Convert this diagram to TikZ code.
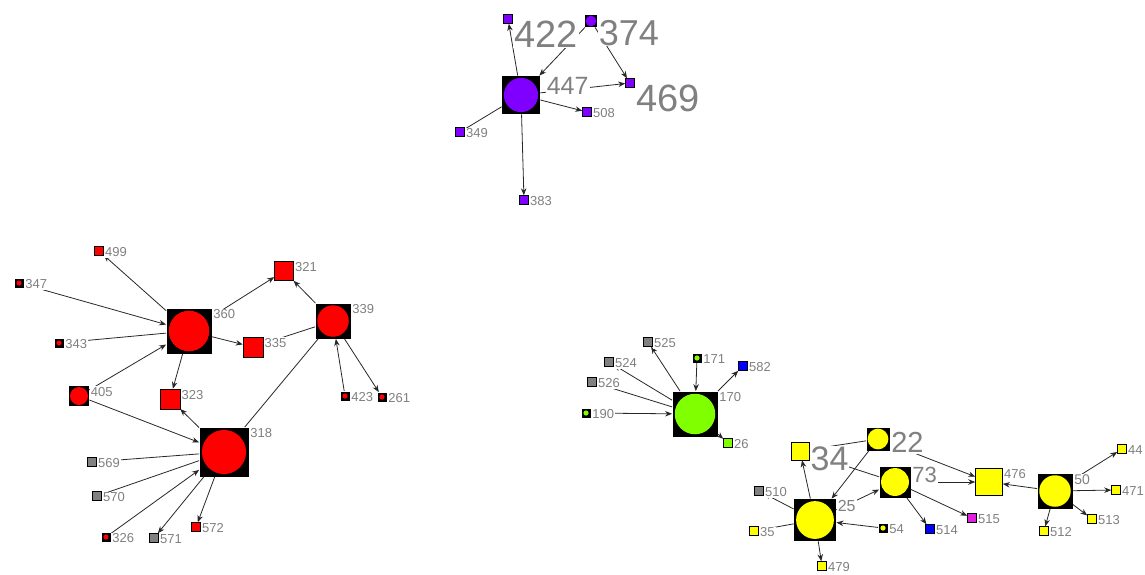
\documentclass[tikz,border=0pt]{standalone}
\usepackage{fontspec}
\setmainfont{Liberation Sans}
\usetikzlibrary{arrows.meta}
\definecolor{vio}{RGB}{128,0,255}
\definecolor{rd}{RGB}{255,0,0}
\definecolor{grn}{RGB}{128,255,0}
\definecolor{yel}{RGB}{255,255,0}
\definecolor{gry}{RGB}{128,128,128}
\definecolor{blu}{RGB}{0,0,255}
\definecolor{mag}{RGB}{224,32,224}
\definecolor{labgray}{RGB}{128,128,128}
\definecolor{edgec}{RGB}{40,40,40}
\tikzset{
  hub/.style 2 args={rectangle, fill=black, inner sep=0pt, minimum size=#2,
    path picture={\fill[#1] (path picture bounding box.center) circle[radius={0.45*#2}];}},
  dotnode/.style={rectangle, fill=black, inner sep=0pt, minimum size=9pt,
    path picture={\fill[#1] (path picture bounding box.center) circle[radius=2.6pt];}},
  sq/.style={rectangle, draw=black, line width=0.5pt, fill=#1, inner sep=0pt, minimum size=9pt},
  lbl/.style={anchor=north west, inner sep=1pt, fill=white, text=labgray,
    font=\fontsize{13}{13}\selectfont},
  lsize/.style={font=\fontsize{#1}{#1}\selectfont},
}

\begin{document}
\begin{tikzpicture}[x=1pt, y=-1pt, >={Stealth[length=7pt,width=5.5pt]},
    color=edgec, line width=0.8pt]
  \fill[white] (0,0) rectangle (1145,574);
  \useasboundingbox (0,0) rectangle (1145,574);

  % purple group
  \node[hub={vio}{38pt}] (n447) at (521,95) {};
  \node[sq=vio] (n422) at (508,19) {};
  \node[hub={vio}{12pt}] (n374) at (591,21) {};
  \node[sq=vio] (n469) at (630,83) {};
  \node[sq=vio] (n508) at (587,112) {};
  \node[sq=vio] (n349) at (460,132) {};
  \node[sq=vio] (n383) at (524,200) {};

  % red group
  \node[hub={rd}{45pt}] (n360) at (189,331) {};
  \node[sq=rd] (n499) at (99,251) {};
  \node[dotnode=rd] (n347) at (19,283) {};
  \node[dotnode=rd] (n343) at (59,343) {};
  \node[hub={rd}{20pt}] (n405) at (79,396) {};
  \node[sq=rd, minimum size=20pt] (n323) at (170,399) {};
  \node[sq=rd, minimum size=20pt] (n335) at (253,347) {};
  \node[sq=rd, minimum size=19pt] (n321) at (284,271) {};
  \node[hub={rd}{35pt}] (n339) at (333,321) {};
  \node[dotnode=rd] (n423) at (345,396) {};
  \node[dotnode=rd] (n261) at (382,397) {};
  \node[hub={rd}{49pt}] (n318) at (224,452) {};
  \node[sq=gry] (n569) at (92,462) {};
  \node[sq=gry] (n570) at (97,496) {};
  \node[dotnode=rd] (n326) at (106,537) {};
  \node[sq=gry] (n571) at (154,538) {};
  \node[sq=rd] (n572) at (196,527) {};

  % green group
  \node[hub={grn}{45pt}] (n170) at (695,414) {};
  \node[sq=gry] (n525) at (648,342) {};
  \node[sq=gry] (n524) at (609,362) {};
  \node[sq=gry] (n526) at (592,382) {};
  \node[dotnode=grn] (n190) at (586,413) {};
  \node[dotnode=grn] (n171) at (697,358) {};
  \node[sq=blu] (n582) at (743,366) {};
  \node[sq=grn] (n26) at (728,443) {};

  % yellow group
  \node[hub={yel}{42pt}] (n25) at (815,520) {};
  \node[sq=yel, minimum size=18pt] (n34) at (800,451) {};
  \node[hub={yel}{23pt}] (n22) at (878,439) {};
  \node[hub={yel}{31pt}] (n73) at (895,482) {};
  \node[sq=gry] (n510) at (759,491) {};
  \node[sq=yel] (n35) at (754,531) {};
  \node[sq=yel] (n479) at (822,566) {};
  \node[dotnode=yel] (n54) at (883,528) {};
  \node[sq=blu] (n514) at (930,529) {};
  \node[sq=mag] (n515) at (972,518) {};
  \node[sq=yel, minimum size=27pt] (n476) at (989,482) {};
  \node[hub={yel}{35pt}] (n50) at (1055,491) {};
  \node[sq=yel] (n44) at (1122,449) {};
  \node[sq=yel] (n471) at (1116,490) {};
  \node[sq=yel] (n513) at (1092,519) {};
  \node[sq=yel] (n512) at (1044,531) {};

  % ties
  \draw[->] (n447) -- (n422);
  \draw[->] (n374) -- (n447);
  \draw[->] (n374) -- (n469);
  \foreach \t in {n469,n508,n383} \draw[->] (n447) -- (\t);
  \draw (n349) -- (n447);

  \foreach \s in {n347,n405} \draw[->] (\s) -- (n360);
  \draw (n343) -- (n360);
  \foreach \t in {n499,n323,n335,n321} \draw[->] (n360) -- (\t);
  \draw[->] (n339) -- (n321);
  \draw (n339) -- (n335);
  \draw[->] (n423) -- (n339);
  \draw[->] (n339) -- (n261);
  \draw (n339) -- (n318);
  \foreach \s in {n405,n326} \draw[->] (\s) -- (n318);
  \draw (n569) -- (n318);
  \draw (n570) -- (n318);
  \foreach \t in {n323,n571,n572} \draw[->] (n318) -- (\t);

  \foreach \t in {n525,n524,n526,n582,n26} \draw[->] (n170) -- (\t);
  \foreach \s in {n190,n171} \draw[->] (\s) -- (n170);

  \draw[->] (n22) -- (n25);
  \draw (n34) -- (n22);
  \draw (n34) -- (n73);
  \foreach \t in {n34,n73,n510,n479} \draw[->] (n25) -- (\t);
  \draw (n35) -- (n25);
  \draw[->] (n54) -- (n25);
  \foreach \t in {n514,n515} \draw[->] (n73) -- (\t);
  \foreach \s in {n73,n22,n50} \draw[->] (\s) -- (n476);
  \foreach \t in {n44,n471,n513,n512} \draw[->] (n50) -- (\t);

  % labels
  \node[lbl, lsize=25, xshift=5pt] (l447) at (n447.north east) {447};
  \node[lbl, lsize=38, yshift=-5pt] (l422) at (n422.north east) {422};
  \node[lbl, lsize=36, yshift=-4pt] (l374) at (n374.north east) {374};
  \node[lbl, lsize=38, yshift=-5pt] (l469) at (n469.north east) {469};
  \foreach \n in {508,349,383,
      360,499,347,343,405,323,335,321,339,423,261,318,569,570,326,571,572,
      170,525,524,526,190,171,582,26,
      510,35,479,54,514,515,476,44,471,513,512}
    \node[lbl] (l\n) at (n\n.north east) {\n};
  \node[lbl, lsize=16] (l25) at (n25.north east) {25};
  \node[lbl, lsize=34, yshift=-4pt] (l34) at (n34.north east) {34};
  \node[lbl, lsize=29, yshift=-4pt] (l22) at (n22.north east) {22};
  \node[lbl, lsize=22] (l73) at (n73.north east) {73};
  \node[lbl, lsize=14] (l50) at (n50.north east) {50};
\end{tikzpicture}
\end{document}
